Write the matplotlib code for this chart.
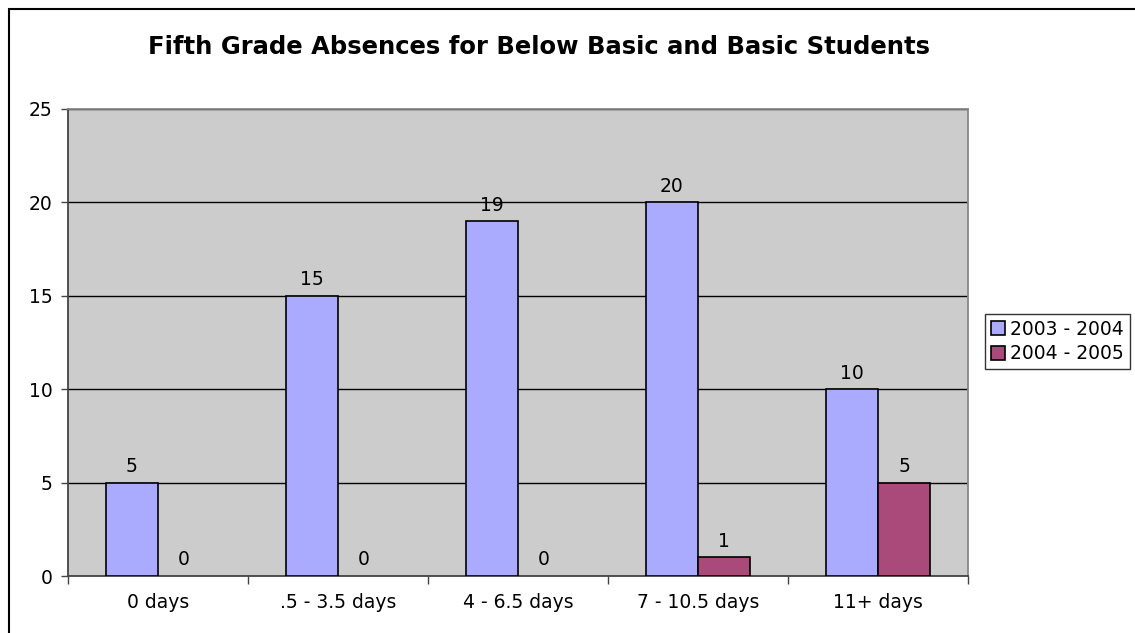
import numpy as np
import matplotlib.pyplot as plt
from matplotlib.patches import Rectangle, Patch

categories = ['0 days', '.5 - 3.5 days', '4 - 6.5 days', '7 - 10.5 days', '11+ days']
series_names = ['2003 - 2004', '2004 - 2005']
values_0304 = [5, 15, 19, 20, 10]
values_0405 = [0, 0, 0, 1, 5]
colors = ['#aaaaff', '#aa4a7a']
yticks = [0, 5, 10, 15, 20, 25]

plt.rcParams['font.family'] = ['DejaVu Sans']

fig = plt.figure(figsize=(11.35, 6.33), dpi=100)
fig.patches.append(Rectangle((9 / 1135, -0.1), 1.2, 1 - 9 / 633 + 0.1,
                             transform=fig.transFigure, fill=False,
                             edgecolor='black', linewidth=1.5))

ax = fig.add_axes([68 / 1135, 1 - 576 / 633, 900 / 1135, 467 / 633])
ax.set_facecolor('#cccccc')

x = np.arange(len(categories))
w = 0.29
b1 = ax.bar(x - w / 2, values_0304, w, color=colors[0], edgecolor='black',
            linewidth=1.2, zorder=3)
b2 = ax.bar(x + w / 2, values_0405, w, color=colors[1], edgecolor='black',
            linewidth=1.2, zorder=3)
for bars, vals in [(b1, values_0304), (b2, values_0405)]:
    for r, v in zip(bars, vals):
        if v == 0:
            r.set_linewidth(0)
        ax.text(r.get_x() + r.get_width() / 2, v + 0.35, str(v),
                ha='center', va='bottom', fontsize=13.5, zorder=4)

ax.set_xlim(-0.5, len(categories) - 0.5)
ax.set_ylim(0, 25)
ax.set_yticks(yticks)
ax.yaxis.grid(True, color='black', linewidth=1, zorder=1)
ax.set_xticks(x)
ax.set_xticklabels(categories)
ax.set_xticks(np.arange(-0.5, len(categories)), minor=True)
ax.tick_params(axis='x', which='major', length=0, pad=12, labelsize=13.5)
ax.tick_params(axis='x', which='minor', length=6, width=1, color='#444444')
ax.tick_params(axis='y', length=5, width=1, color='#444444', labelsize=13.5, pad=6)
for s in ['left', 'bottom']:
    ax.spines[s].set_color('#444444')
for s in ['top', 'right']:
    ax.spines[s].set_color('#888888')
for s in ax.spines.values():
    s.set_linewidth(1.3)

fig.text(539 / 1135, 1 - 47 / 633, 'Fifth Grade Absences for Below Basic and Basic Students',
         ha='center', va='center', fontsize=17.5, fontweight='bold')

handles = [Patch(facecolor=c, edgecolor='black', linewidth=1.2) for c in colors]
leg = fig.legend(handles, series_names, loc='upper left',
                 bbox_to_anchor=(985 / 1135, 1 - 314 / 633),
                 fontsize=13.5, frameon=True, fancybox=False, edgecolor='black',
                 handlelength=0.75, handleheight=0.75, handletextpad=0.3,
                 borderpad=0.3, labelspacing=0.3, borderaxespad=0)
leg.get_frame().set_linewidth(1)

fig.savefig('out.png', dpi=100)
